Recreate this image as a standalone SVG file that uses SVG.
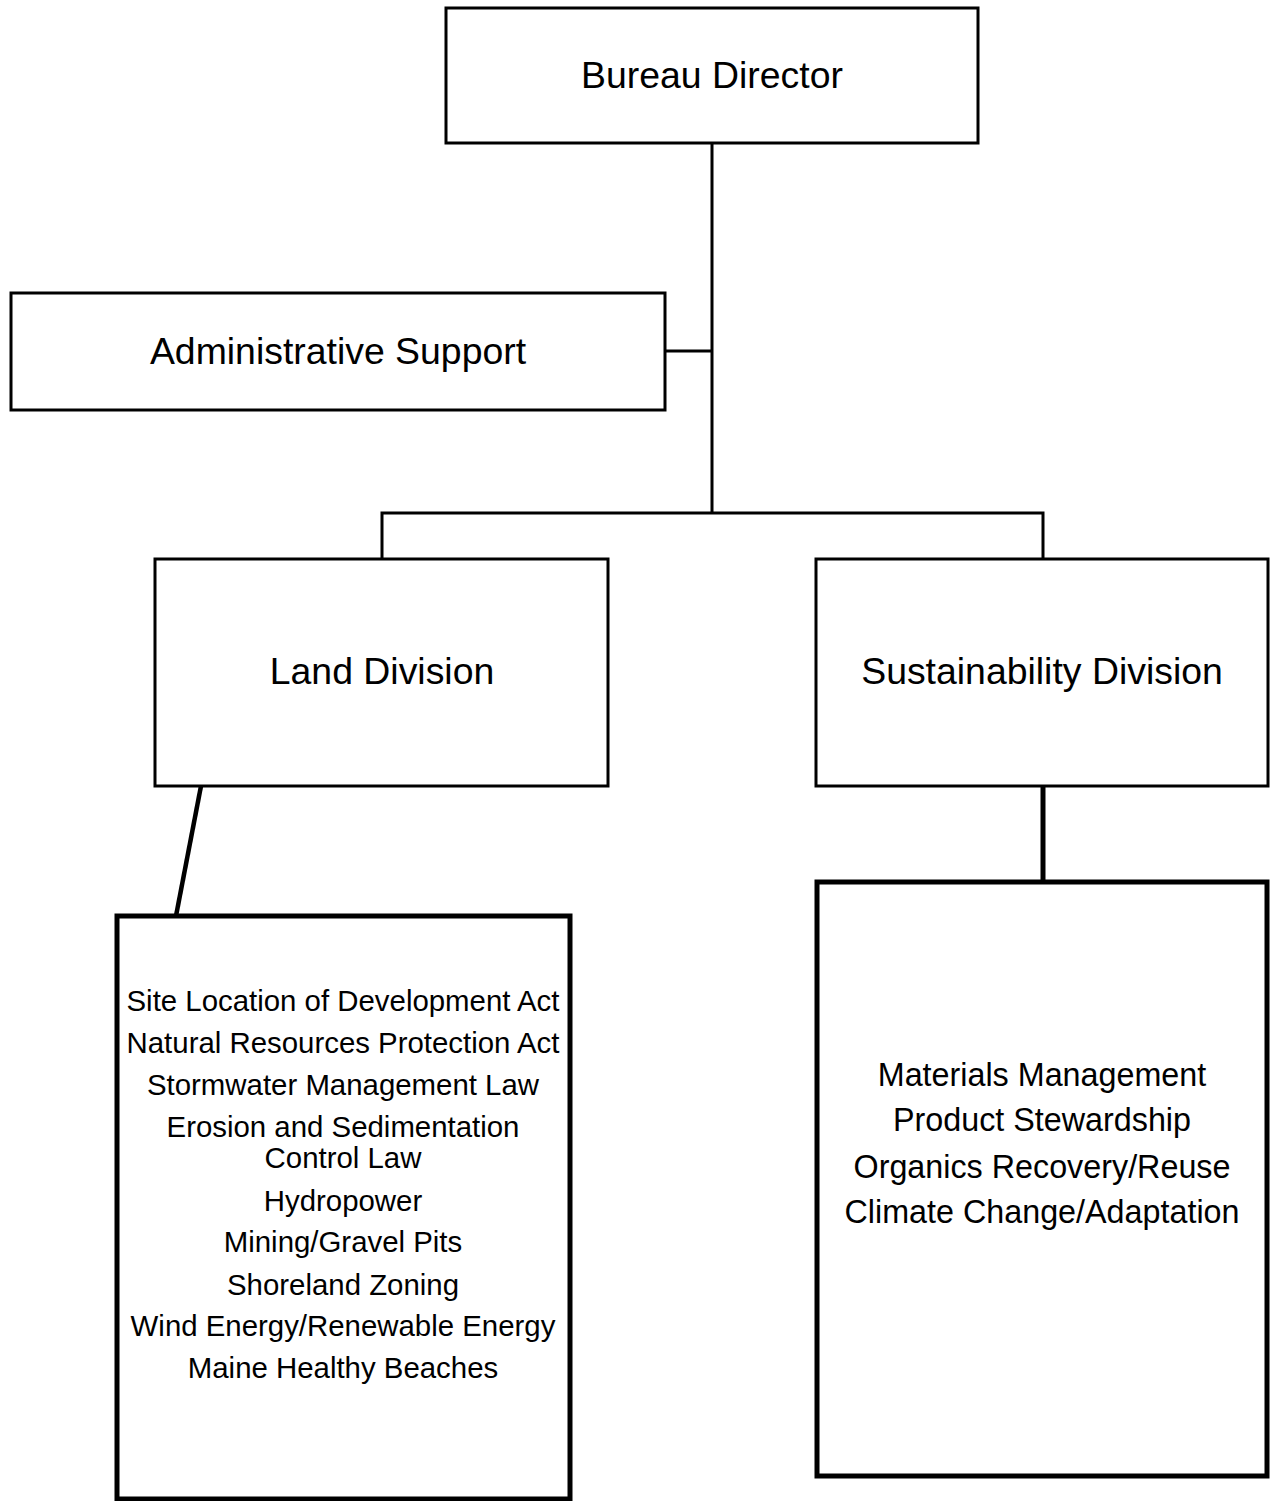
<svg xmlns="http://www.w3.org/2000/svg" width="1270" height="1501" viewBox="0 0 1270 1501">
  <style>
    .box { fill: #ffffff; stroke: #000000; stroke-width: 3; }
    .heavy { stroke-width: 5; }
    .line { fill: none; stroke: #000000; stroke-width: 3; }
    .title { font-family: "Liberation Sans", Arial, sans-serif; font-size: 37.4px; fill: #000000; text-anchor: middle; }
    .item { font-family: "Liberation Sans", Arial, sans-serif; font-size: 29.4px; fill: #000000; text-anchor: middle; }
    .item-lg { font-family: "Liberation Sans", Arial, sans-serif; font-size: 32.3px; fill: #000000; text-anchor: middle; }
  </style>
  <rect x="0" y="0" width="1270" height="1501" fill="#ffffff"/>

  <g id="connectors">
    <line class="line" x1="712" y1="143" x2="712" y2="513"/>
    <line class="line" x1="665" y1="351" x2="712" y2="351"/>
    <polyline class="line" points="382,559 382,513 1043,513 1043,559"/>
    <line class="line" style="stroke-width:4.5" x1="201" y1="786" x2="176" y2="916"/>
    <line class="line" style="stroke-width:5" x1="1043" y1="786" x2="1043" y2="881"/>
  </g>

  <g id="bureau-director">
    <rect class="box" x="446" y="8" width="532" height="135"/>
    <text class="title" x="712" y="88">Bureau Director</text>
  </g>

  <g id="administrative-support">
    <rect class="box" x="11" y="293" width="654" height="117"/>
    <text class="title" x="338" y="364">Administrative Support</text>
  </g>

  <g id="land-division">
    <rect class="box" x="155" y="559" width="453" height="227"/>
    <text class="title" x="382" y="684">Land Division</text>
  </g>

  <g id="sustainability-division">
    <rect class="box" x="816" y="559" width="452" height="227"/>
    <text class="title" x="1042" y="684">Sustainability Division</text>
  </g>

  <g id="land-programs">
    <rect class="box heavy" x="117" y="916" width="453" height="583"/>
    <text class="item" x="343" y="1011">Site Location of Development Act</text>
    <text class="item" x="343" y="1053">Natural Resources Protection Act</text>
    <text class="item" x="343" y="1095">Stormwater Management Law</text>
    <text class="item" x="343" y="1137">Erosion and Sedimentation</text>
    <text class="item" x="343" y="1168">Control Law</text>
    <text class="item" x="343" y="1211">Hydropower</text>
    <text class="item" x="343" y="1252">Mining/Gravel Pits</text>
    <text class="item" x="343" y="1295">Shoreland Zoning</text>
    <text class="item" x="343" y="1336">Wind Energy/Renewable Energy</text>
    <text class="item" x="343" y="1378">Maine Healthy Beaches</text>
  </g>

  <g id="sustainability-programs">
    <rect class="box heavy" x="817" y="882" width="450" height="594"/>
    <text class="item-lg" x="1042" y="1086">Materials Management</text>
    <text class="item-lg" x="1042" y="1131">Product Stewardship</text>
    <text class="item-lg" x="1042" y="1178">Organics Recovery/Reuse</text>
    <text class="item-lg" x="1042" y="1223">Climate Change/Adaptation</text>
  </g>
</svg>
